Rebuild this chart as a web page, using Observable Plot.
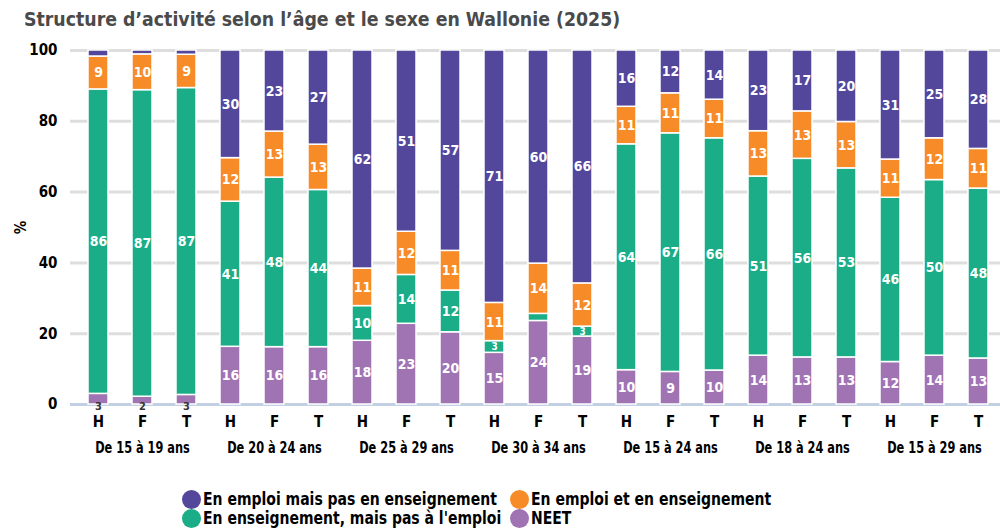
<!DOCTYPE html>
<html><head><meta charset="utf-8">
<script src="https://cdn.jsdelivr.net/npm/d3@7"></script>
<script src="https://cdn.jsdelivr.net/npm/@observablehq/plot@0.6"></script>
<style>
body{margin:0;background:#fff;}
#wrap{position:relative;width:1000px;height:529px;overflow:hidden;font-family:"Liberation Sans Narrow","DejaVu Sans Condensed",sans-serif;}
#title{position:absolute;top:7px;left:24px;font-size:20px;line-height:24px;font-weight:bold;color:#4a4a4a;white-space:nowrap;transform:scaleX(0.965);transform-origin:left center;}
#chart{position:absolute;top:36px;left:0;}
#legend{position:absolute;top:490px;left:182px;display:grid;grid-template-columns:328px auto;row-gap:0;}
.item{display:flex;align-items:center;height:19px;line-height:19px;font-size:17px;font-weight:bold;color:#000;white-space:nowrap;}
.sw{width:19px;height:19px;border-radius:50%;margin-right:2px;flex:none;}
.lt{display:inline-block;transform:scaleX(0.915);transform-origin:left center;}
</style></head>
<body><div id="wrap"><div id="title">Structure d’activité selon l’âge et le sexe en Wallonie (2025)</div><div id="chart"></div><div id="legend"></div></div>
<script>
const groups = ["De 15 à 19 ans","De 20 à 24 ans","De 25 à 29 ans","De 30 à 34 ans","De 15 à 24 ans","De 18 à 24 ans","De 15 à 29 ans"];
const sexes = ["H","F","T"];
const seriesNames = ["En emploi mais pas en enseignement","En emploi et en enseignement","En enseignement, mais pas à l'emploi","NEET"];
const seriesColors = ["#52479b","#f68b27","#1aad87","#a074b2"];
const yTicks = [0,20,40,60,80,100];
// values per bar (groups x sexes, in order)
const neet         = [3.0,2.2,2.7, 16.3,16.2,16.2, 18.0,22.8,20.4, 14.6,23.6,19.2, 9.7,9.2,9.6, 13.8,13.3,13.3, 12.0,13.8,13.0];
const enseignement = [86.0,86.6,86.7, 41.0,47.9,44.4, 9.8,13.8,11.8, 3.3,2.0,2.8, 63.8,67.4,65.6, 50.6,56.1,53.4, 46.4,49.6,48.0];
const emploiEns    = [9.3,10.1,9.4, 12.3,13.0,12.8, 10.6,12.2,11.2, 10.8,14.2,12.2, 10.6,11.3,10.9, 12.8,13.4,13.1, 10.8,11.8,11.2];
const emploi       = [1.7,1.1,1.2, 30.4,22.9,26.6, 61.6,51.2,56.6, 71.3,60.2,65.8, 15.9,12.1,13.9, 22.8,17.2,20.2, 30.8,24.8,27.8];

const stackSeries = [[seriesNames[3],neet],[seriesNames[2],enseignement],[seriesNames[1],emploiEns],[seriesNames[0],emploi]];
const keys = [];
groups.forEach((g,gi)=>sexes.forEach(s=>keys.push(gi+"-"+s)));
const rows = [];
keys.forEach((k,i)=>{
  stackSeries.forEach(([name,vals])=>rows.push({key:k, serie:name, value:vals[i]}));
});
const groupLabels = groups.map((g,gi)=>({key:gi+"-F", label:g}));
const font = `"Liberation Sans Narrow","DejaVu Sans Condensed",sans-serif`;

const inLabel = d => (d.value >= 4 ? String(Math.round(d.value)) : "");
const smallLabel = d => (d.serie===seriesNames[2] && d.value>=2.5 && d.value<4) ? String(Math.round(d.value)) : "";

const chart = Plot.plot({
  width:1000, height:425,
  marginTop:14, marginBottom:57, marginLeft:70, marginRight:0,
  style:{fontFamily:font, fontSize:"14px", background:"transparent"},
  x:{domain:keys, range:[70,1005], paddingInner:0.55, paddingOuter:0.27},
  y:{domain:[0,100]},
  color:{domain:seriesNames, range:seriesColors},
  marks:[
    Plot.ruleY(yTicks.filter(t=>t>0), {stroke:"#dedede", strokeWidth:3}),
    Plot.ruleY([0], {stroke:"#c3cfe2", strokeWidth:3}),
    Plot.barY(rows, Plot.stackY({x:"key", y:"value", z:"serie", fill:"serie", stroke:"white", strokeWidth:1.5})),
    Plot.text(rows, Plot.stackY({x:"key", y:"value", z:"serie", text:inLabel, fill:"white", fontWeight:"bold", fontSize:14})),
    Plot.text(rows, Plot.stackY({x:"key", y:"value", z:"serie", text:smallLabel, fill:"white", fontWeight:"bold", fontSize:10})),
    Plot.text(rows.filter(d=>d.serie==="NEET" && d.value<4), {x:"key", y:0, dy:2, text:d=>String(Math.round(d.value)), fill:"#333", fontWeight:"bold", fontSize:11}),
    Plot.axisY({ticks:yTicks, tickSize:0, tickPadding:13, fontWeight:"bold", fontSize:15, fill:"#000", label:"%", labelAnchor:"center", labelArrow:"none", labelOffset:55}),
    Plot.axisX({tickSize:0, tickPadding:12, tickFormat:d=>d.split("-")[1], fontWeight:"bold", fontSize:15, fill:"#000", label:null}),
    Plot.text(groupLabels, {x:"key", y:0, dy:44, text:"label", fill:"#000", fontWeight:"bold", fontSize:15})
  ]
});
document.getElementById("chart").appendChild(chart);
// condense the group labels to match the narrow typeface of the original
chart.querySelectorAll("text").forEach(t=>{
  if (groups.includes(t.textContent)) {
    const w = t.getComputedTextLength();
    t.setAttribute("textLength", (w*0.84).toFixed(1));
    t.setAttribute("lengthAdjust", "spacingAndGlyphs");
  }
});

const leg = document.getElementById("legend");
seriesNames.forEach((n,i)=>{
  const it = document.createElement("div"); it.className="item";
  it.innerHTML = `<span class="sw" style="background:${seriesColors[i]}"></span><span class="lt">${n}</span>`;
  leg.appendChild(it);
});
</script></body></html>
